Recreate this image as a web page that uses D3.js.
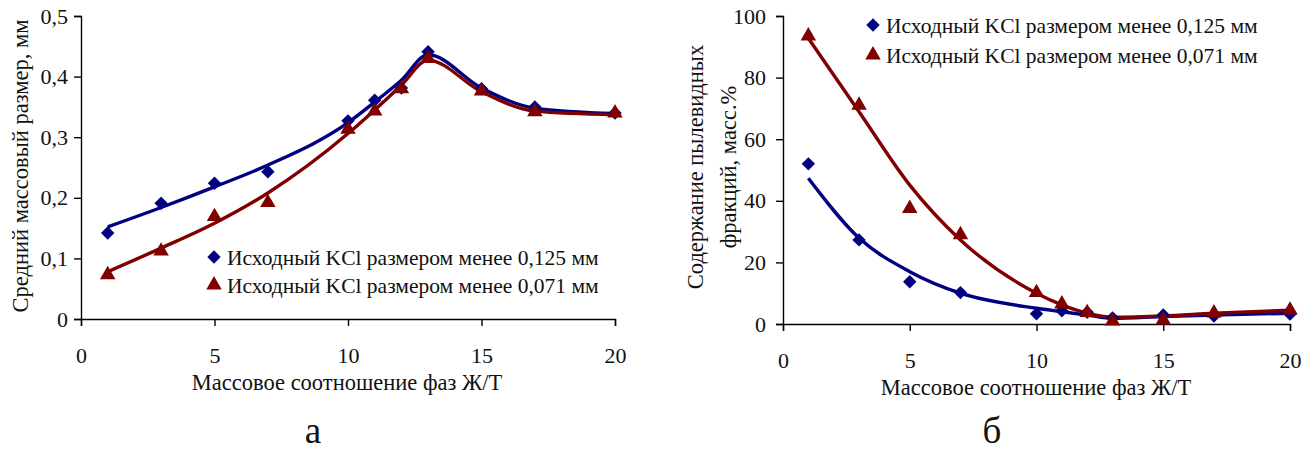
<!DOCTYPE html>
<html>
<head>
<meta charset="utf-8">
<script src="https://cdn.jsdelivr.net/npm/d3@7"></script>
<style>
  html, body { margin: 0; padding: 0; background: #fff; }
  svg { display: block; font-family: "Liberation Serif", "Times New Roman", serif; }
</style>
</head>
<body>
<svg id="chart" width="1313" height="452"></svg>
<script>
// Liquid/solid mass ratio (x values shared by both panels)
const ratio = [1, 3, 5, 7, 10, 11, 12, 13, 15, 17, 20];

// Panel а: mass-average particle size, mm
const size125 = [0.142, 0.191, 0.224, 0.243, 0.327, 0.361, 0.381, 0.441, 0.380, 0.350, 0.340];
const size071 = [0.073, 0.112, 0.169, 0.192, 0.313, 0.343, 0.380, 0.430, 0.376, 0.342, 0.340];
// smoothed trend lines for panel а
const sizeTrend125 = [0.152, 0.184, 0.218, 0.254, 0.324, 0.358, 0.394, 0.436, 0.381, 0.348, 0.339];
const sizeTrend071 = [0.078, 0.117, 0.158, 0.208, 0.306, 0.345, 0.386, 0.427, 0.375, 0.343, 0.337];

// Panel б: dust fraction content, mass %
const dust125 = [52, 27.3, 13.7, 10.2, 3.3, 4.3, 3.8, 2.0, 2.9, 2.6, 3.2];
const dust071 = [93.5, 71, 37.5, 29, 10.2, 6.5, 3.7, 1.0, 1.3, 3.6, 4.5];
// smoothed trend lines for panel б
const dustTrend125 = [47.3, 27.9, 17.0, 10.0, 5.1, 4.0, 2.9, 1.8, 2.4, 2.9, 3.5];
const dustTrend071 = [92.8, 68.9, 45.1, 27.3, 10.0, 6.2, 3.5, 2.2, 2.6, 3.5, 4.5];

const xTicks = [0, 5, 10, 15, 20];
const sizeTicks = [0, 0.1, 0.2, 0.3, 0.4, 0.5];
const dustTicks = [0, 20, 40, 60, 80, 100];

const seriesNames = ["Исходный KCl размером менее 0,125 мм", "Исходный KCl размером менее 0,071 мм"];
const colors = ["#000080", "#800000"];

const svg = d3.select("#chart");

// rotated-square diamond symbol
const diamond = {
  draw(ctx, size) {
    const r = Math.sqrt(size / 2);
    ctx.moveTo(0, -r); ctx.lineTo(r, 0); ctx.lineTo(0, r); ctx.lineTo(-r, 0); ctx.closePath();
  }
};
const symDiamond = d3.symbol().type(diamond).size(90);
const symTriangle = d3.symbol().type(d3.symbolTriangle).size(104);

function panel(cfg) {
  const g = svg.append("g");
  const x = d3.scaleLinear().domain([0, 20]).range([cfg.x0, cfg.x1]);
  const y = d3.scaleLinear().domain(cfg.yDomain).range([cfg.y0, cfg.y1]);

  // axes
  const xAxis = d3.axisBottom(x).tickValues(xTicks).tickSize(7).tickPadding(21).tickFormat(d3.format("d"));
  const yAxis = d3.axisLeft(y).tickValues(cfg.yTicks).tickSize(7).tickPadding(cfg.yPad).tickFormat(cfg.yFmt);

  const gx = g.append("g").attr("transform", `translate(0,${cfg.y0})`).call(xAxis);
  const gy = g.append("g").attr("transform", `translate(${cfg.x0},0)`).call(yAxis);
  [gx, gy].forEach(a => {
    a.select(".domain").attr("stroke", "#000").attr("stroke-width", 1.4);
    a.selectAll(".tick line").attr("stroke", "#000").attr("stroke-width", 1.4);
    a.selectAll(".tick text").attr("fill", "#111").attr("font-size", 22)
      .attr("font-family", "Liberation Serif");
  });

  // smoothed trend lines
  const line = d3.line().x((d, i) => x(ratio[i])).y(d => y(d)).curve(d3.curveMonotoneX);
  cfg.trends.forEach((t, k) => {
    g.append("path").attr("d", line(t)).attr("fill", "none")
      .attr("stroke", colors[k]).attr("stroke-width", 3.4).attr("stroke-linejoin", "round");
  });

  // markers
  const syms = [symDiamond, symTriangle];
  cfg.series.forEach((s, k) => {
    g.append("g").selectAll("path").data(s).join("path")
      .attr("d", syms[k]())
      .attr("transform", (d, i) => `translate(${x(ratio[i])},${y(d)})`)
      .attr("fill", colors[k]);
  });

  // legend
  cfg.legend.forEach((pos, k) => {
    g.append("path").attr("d", syms[k]()).attr("fill", colors[k])
      .attr("transform", `translate(${pos[0]},${pos[1]})`);
    g.append("text").attr("x", pos[0] + 13).attr("y", pos[1]).attr("dy", "0.35em")
      .attr("font-size", 21.5).attr("fill", "#111").text(seriesNames[k]);
  });

  // axis titles
  g.append("text").attr("x", cfg.titleXc).attr("y", cfg.y0 + 71)
    .attr("text-anchor", "middle").attr("font-size", 22.5).attr("fill", "#111")
    .text("Массовое соотношение фаз Ж/Т");

  const yt = g.append("text").attr("transform", `translate(${cfg.titleX},${cfg.titleY}) rotate(-90)`)
    .attr("text-anchor", "middle").attr("font-size", 22.5).attr("fill", "#111");
  cfg.yTitle.forEach((s, i) => {
    yt.append("tspan").attr("x", 0).attr("dy", i === 0 ? 0 : 33).text(s);
  });

  // panel letter
  g.append("text").attr("x", cfg.letterX).attr("y", 443).attr("text-anchor", "middle")
    .attr("font-size", 37).attr("fill", "#111").text(cfg.letter);
}

panel({
  x0: 81, x1: 615, y0: 319, y1: 16,
  yDomain: [0, 0.5], yTicks: sizeTicks, yPad: 6,
  yFmt: d => d === 0 ? "0" : d3.format(".1f")(d).replace(".", ","),
  series: [size125, size071], trends: [sizeTrend125, sizeTrend071],
  legend: [[214, 257], [214, 285]],
  titleXc: 347,
  yTitle: ["Средний массовый размер, мм"], titleX: 28, titleY: 166,
  letter: "а", letterX: 313
});

panel({
  x0: 783, x1: 1290, y0: 324, y1: 16,
  yDomain: [0, 100], yTicks: dustTicks, yPad: 10,
  yFmt: d3.format("d"),
  series: [dust125, dust071], trends: [dustTrend125, dustTrend071],
  legend: [[873, 25], [873, 55]],
  titleXc: 1036,
  yTitle: ["Содержание пылевидных", "фракций, масс.%"], titleX: 703, titleY: 167,
  letter: "б", letterX: 992
});
</script>
</body>
</html>
